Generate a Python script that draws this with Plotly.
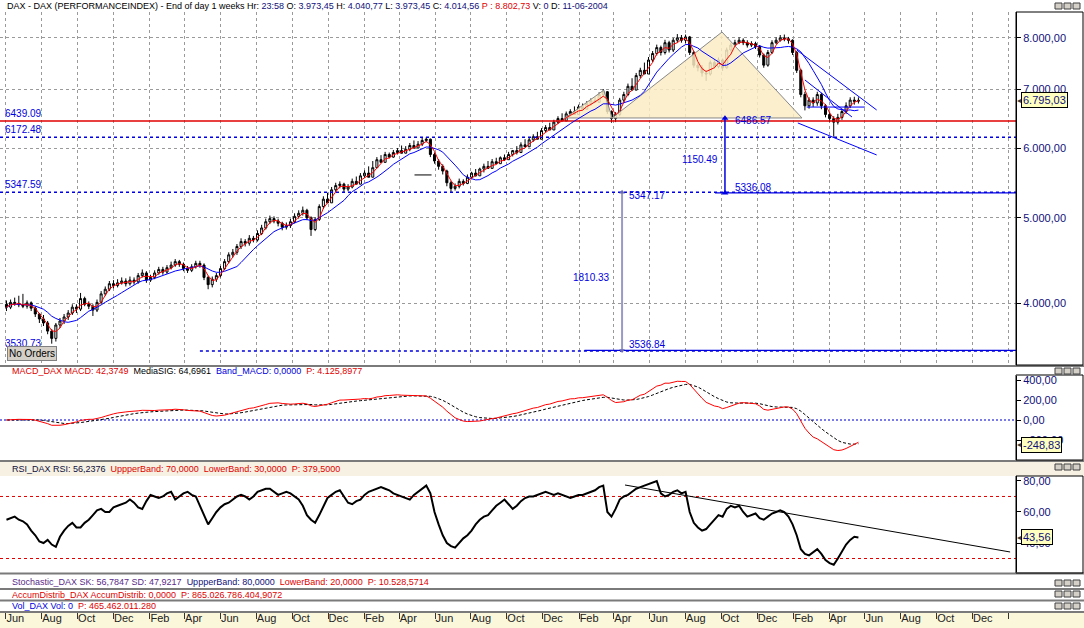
import plotly.graph_objects as go
import pandas as pd
import numpy as np
import math

# ---------------- data ----------------
week_start = "2000-06-02"
first_open = 3990
closes = [
    3960, 4010, 4000, 3985, 3970, 4005, 3950, 3890, 3840, 3800,
    3720, 3650, 3780, 3820, 3860, 3900, 3960, 3940, 4050, 3990,
    3970, 3930, 4010, 4100, 4150, 4210, 4190, 4220, 4240, 4210,
    4250, 4230, 4300, 4330, 4250, 4280, 4330, 4370, 4340, 4390,
    4420, 4460, 4430, 4380, 4360, 4400, 4440, 4420, 4280, 4200,
    4260, 4300, 4380, 4460, 4540, 4570, 4640, 4700, 4680, 4740,
    4720, 4800, 4870, 4950, 4990, 4960, 4930, 4880, 4900, 4950,
    5020, 5060, 5100, 5000, 4850, 4980, 5150, 5250, 5200, 5380,
    5440, 5460, 5390, 5420, 5500, 5460, 5580, 5620, 5560, 5700,
    5820, 5780, 5900, 5860, 5930, 5960, 5920, 5980, 6040, 6000,
    6060, 6120, 6140, 5900, 5800, 5720, 5650, 5480, 5400, 5430,
    5500, 5470, 5560, 5620, 5580, 5680, 5720, 5690, 5790, 5760,
    5850, 5820, 5900, 5960, 5930, 6050, 6020, 6130, 6180, 6140,
    6280, 6330, 6290, 6420, 6480, 6440, 6560, 6600, 6550, 6680,
    6640, 6740, 6790, 6760, 6900, 6950, 6600, 6480, 6550, 6800,
    6900, 7050, 6980, 7250, 7350, 7280, 7550, 7680, 7800, 7700,
    7900, 7750, 7950, 8000, 7950, 8020, 7700, 7450, 7400, 7300,
    7280, 7500, 7420, 7550, 7400, 7750, 7850, 7900, 7950, 7900,
    7850, 7880, 7820, 7650, 7450, 7700, 7900, 7950, 8000, 7980,
    7950, 7700, 7350, 6900, 6700, 6800, 6750, 6900, 6700, 6550,
    6480, 6420, 6500, 6600, 6700, 6800, 6780, 6795.03]
highs = [
    4030, 4040, 4060, 4080, 4100, 4030, 4020, 3970, 3900, 3880,
    3820, 3740, 3800, 3850, 3890, 3930, 3990, 3990, 4110, 4070,
    4020, 3990, 4040, 4130, 4180, 4240, 4250, 4260, 4280, 4270,
    4290, 4280, 4330, 4370, 4350, 4310, 4360, 4400, 4400, 4420,
    4460, 4490, 4480, 4450, 4410, 4430, 4470, 4470, 4440, 4300,
    4290, 4330, 4410, 4490, 4570, 4610, 4670, 4740, 4730, 4780,
    4770, 4840, 4910, 4990, 5030, 5020, 4990, 4950, 4940, 4990,
    5060, 5100, 5150, 5120, 5020, 5010, 5180, 5290, 5340, 5420,
    5480, 5500, 5480, 5460, 5540, 5570, 5620, 5660, 5720, 5800,
    5860, 5890, 5940, 5930, 5970, 6000, 6040, 6030, 6080, 6120,
    6110, 6160, 6172, 6150, 5930, 5830, 5750, 5670, 5510, 5470,
    5540, 5530, 5600, 5640, 5680, 5700, 5760, 5800, 5830, 5850,
    5870, 5900, 5940, 5970, 6030, 6090, 6140, 6170, 6220, 6260,
    6320, 6370, 6410, 6460, 6520, 6570, 6600, 6640, 6690, 6720,
    6740, 6780, 6830, 6850, 6940, 7000, 6960, 6620, 6590, 6840,
    6950, 7100, 7200, 7300, 7400, 7500, 7610, 7730, 7860, 7840,
    7960, 7940, 8000, 8080, 8060, 8070, 8040, 7730, 7500, 7450,
    7360, 7540, 7560, 7600, 7580, 7800, 7900, 7960, 8010, 7990,
    7950, 7930, 7920, 7850, 7680, 7750, 7950, 8010, 8060, 8070,
    8020, 7970, 7730, 7380, 6950, 6850, 6850, 6950, 6930, 6730,
    6600, 6520, 6560, 6650, 6760, 6850, 6860, 6850]
lows = [
    3920, 3940, 3975, 3960, 3950, 3945, 3920, 3860, 3800, 3770,
    3690, 3600, 3620, 3750, 3790, 3830, 3880, 3900, 3920, 3970,
    3940, 3870, 3910, 3990, 4080, 4130, 4160, 4170, 4200, 4180,
    4190, 4200, 4210, 4280, 4220, 4230, 4260, 4310, 4310, 4320,
    4370, 4400, 4400, 4350, 4330, 4340, 4380, 4390, 4250, 4150,
    4170, 4230, 4280, 4360, 4440, 4510, 4540, 4610, 4640, 4650,
    4690, 4700, 4780, 4850, 4920, 4930, 4890, 4840, 4850, 4870,
    4930, 4990, 5030, 4970, 4770, 4830, 4960, 5120, 5220, 5270,
    5350, 5400, 5340, 5360, 5400, 5470, 5500, 5550, 5590, 5650,
    5730, 5790, 5820, 5840, 5850, 5900, 5930, 5940, 5950, 6010,
    6020, 6030, 6090, 5860, 5760, 5670, 5600, 5430, 5348, 5370,
    5400, 5440, 5460, 5530, 5570, 5600, 5630, 5690, 5730, 5760,
    5780, 5800, 5830, 5870, 5900, 5960, 6020, 6070, 6100, 6150,
    6190, 6250, 6300, 6340, 6390, 6450, 6500, 6520, 6570, 6610,
    6640, 6660, 6700, 6750, 6770, 6860, 6560, 6410, 6420, 6520,
    6760, 6870, 7010, 7110, 7200, 7300, 7400, 7510, 7640, 7640,
    7660, 7700, 7710, 7900, 7900, 7890, 7650, 7400, 7330, 7230,
    7150, 7250, 7380, 7390, 7340, 7380, 7720, 7820, 7870, 7850,
    7800, 7810, 7770, 7600, 7400, 7420, 7670, 7870, 7920, 7930,
    7880, 7650, 7300, 6850, 6620, 6650, 6680, 6700, 6640, 6500,
    6420, 6180, 6380, 6460, 6560, 6660, 6720, 6740]
# RSI values, one per week
rsi_values = [
    55, 56, 57, 55, 54, 52, 48, 45, 41, 40,
    42, 39, 37.5, 44, 48, 51, 53, 50, 50, 53,
    55, 58, 61, 62, 60, 60, 63, 64, 65, 66,
    68, 66, 63, 62, 67, 71, 70, 69, 70, 72,
    73, 68, 70, 72, 73, 71, 70, 64, 58, 52,
    56, 60, 63, 65, 66, 68, 70, 71, 70, 68,
    70, 73, 74, 75, 75, 73, 71, 72, 73, 72,
    70, 68, 64, 58, 55, 53, 58, 64, 69, 71,
    73, 74, 70, 66, 65, 67, 68, 71, 73, 74,
    75, 76, 75, 74, 72, 71, 70, 69, 68, 71,
    73, 75, 77, 72, 60, 52, 45, 40, 38, 37,
    40, 43, 45, 48, 52, 55, 57, 58, 61, 64,
    66, 68, 65, 62, 64, 67, 69, 70, 70, 71,
    72, 73, 72, 71, 72, 71, 70, 69, 70, 71,
    71, 72, 73, 74, 76, 77, 60, 57, 62, 68,
    70, 71, 73, 75, 76, 77, 78, 79, 80, 72,
    70, 71, 73, 74, 72, 73, 60, 53, 50, 48,
    49, 52, 55, 58, 57, 62, 64, 63, 64, 60,
    57, 58, 59, 56, 55, 57, 59, 60, 61, 60,
    57, 52, 45, 36, 33, 32, 34, 36, 33, 29,
    27, 26, 30, 35, 39, 42, 44, 43.56]

month_tick0 = "2000-06-01"
x_range = ["2000-05-22", "2005-02-13"]

# drawn levels (values written on the chart)
level_red = 6439.09
level_blue_dash = [6172.48, 5347.59]
level_low = 3530.73
measure1_top, measure1_bot, measure1_txt = 6486.57, 5336.08, "1150.49"
measure2_top, measure2_bot, measure2_txt = 5347.17, 3536.84, "1810.33"

# head & shoulders pattern outline (date, price)
hs_dates = ["2003-01-08", "2003-03-15", "2003-03-29", "2003-10-02", "2004-02-15", "2003-01-08"]
hs_prices = [6490, 6980, 6490, 8123, 6490, 6490]

# channel lines drawn at the end (date pairs, price pairs)
channels = [
    (["2004-02-06", "2004-06-21"], [7751, 6627]),
    (["2004-02-20", "2004-05-10"], [7167, 6507]),
    (["2004-02-23", "2004-06-01"], [6678, 6678]),
    (["2004-02-08", "2004-06-21"], [6406, 5893]),
]
rsi_trend_dates = ["2003-04-20", "2005-02-03"]
rsi_trend_vals = [77.4, 34.2]

# ---------------- derived ----------------
dates = pd.date_range(week_start, periods=len(closes), freq="7D")
opens = [first_open] + closes[:-1]
highs = [max(h, o, c) for h, o, c in zip(highs, opens, closes)]
lows = [min(l, o, c) for l, o, c in zip(lows, opens, closes)]
cs = pd.Series(closes, dtype=float)
ma_fast = cs.rolling(3, min_periods=1).mean()
ma_slow = cs.rolling(9, min_periods=1).mean()
macd = cs.ewm(span=12, adjust=False).mean() - cs.ewm(span=26, adjust=False).mean()
sig = macd.ewm(span=9, adjust=False).mean()

W, H = 1084, 628
XR = 1016 / W
def py(p):
    return 1 - p / H
def px(p):
    return p / W

NAVY = "#10107a"
BLUE = "#0000e0"
RED = "#e00000"
FONT = "Liberation Sans"

fig = go.Figure()

# pattern fill
fig.add_trace(go.Scatter(x=hs_dates, y=hs_prices, mode="lines", fill="toself",
                         fillcolor="rgba(250,236,196,0.85)", line=dict(color="#888888", width=1),
                         hoverinfo="skip", showlegend=False))
# levels
fig.add_trace(go.Scatter(x=x_range, y=[level_red] * 2, mode="lines",
                         line=dict(color="#e00000", width=1.5), hoverinfo="skip", showlegend=False))
for lv in level_blue_dash:
    fig.add_trace(go.Scatter(x=x_range, y=[lv] * 2, mode="lines",
                             line=dict(color=BLUE, width=1.5, dash="3px,3px"), hoverinfo="skip", showlegend=False))
fig.add_trace(go.Scatter(x=["2001-04-27", x_range[1]], y=[level_low] * 2, mode="lines",
                         line=dict(color=BLUE, width=1.5, dash="3px,3px"), hoverinfo="skip", showlegend=False))
fig.add_trace(go.Scatter(x=["2003-02-10", x_range[1]], y=[measure2_bot] * 2, mode="lines",
                         line=dict(color=BLUE, width=1.2), hoverinfo="skip", showlegend=False))
fig.add_trace(go.Scatter(x=["2003-09-20", x_range[1]], y=[measure1_bot] * 2, mode="lines",
                         line=dict(color=BLUE, width=1.2), hoverinfo="skip", showlegend=False))

# candles
fig.add_trace(go.Candlestick(x=dates, open=opens, high=highs, low=lows, close=closes,
                             increasing=dict(line=dict(color="black", width=1), fillcolor="white"),
                             decreasing=dict(line=dict(color="black", width=1), fillcolor="black"),
                             whiskerwidth=0, hoverinfo="skip", showlegend=False))
fig.add_trace(go.Scatter(x=dates, y=ma_slow, mode="lines", line=dict(color="#0000ff", width=1),
                         hoverinfo="skip", showlegend=False))
fig.add_trace(go.Scatter(x=dates, y=ma_fast, mode="lines", line=dict(color="#ff0000", width=1),
                         hoverinfo="skip", showlegend=False))
# small black bar
fig.add_trace(go.Scatter(x=["2002-04-27", "2002-05-26"], y=[5593, 5593], mode="lines",
                         line=dict(color="black", width=1), hoverinfo="skip", showlegend=False))
for cx, cy in channels:
    fig.add_trace(go.Scatter(x=cx, y=cy, mode="lines", line=dict(color="#0000ff", width=1),
                             hoverinfo="skip", showlegend=False))
# measuring arrows
fig.add_trace(go.Scatter(x=["2003-10-07", "2003-10-07"], y=[measure1_top, measure1_bot], mode="lines+markers",
                         line=dict(color=BLUE, width=1.5),
                         marker=dict(symbol=["triangle-up", "triangle-up"], size=6, color=BLUE),
                         hoverinfo="skip", showlegend=False))
fig.add_trace(go.Scatter(x=["2003-04-15", "2003-04-15"], y=[measure2_top, measure2_bot], mode="lines+markers",
                         line=dict(color="#9a9ac8", width=2),
                         marker=dict(symbol=["triangle-up", "triangle-down"], size=5, color="#6a6ab0"),
                         hoverinfo="skip", showlegend=False))

# MACD panel
fig.add_trace(go.Scatter(x=x_range, y=[0, 0], xaxis="x2", yaxis="y2", mode="lines",
                         line=dict(color="#5050e0", width=1.5, dash="2px,2px"), hoverinfo="skip", showlegend=False))
fig.add_trace(go.Scatter(x=dates, y=sig, xaxis="x2", yaxis="y2", mode="lines",
                         line=dict(color="black", width=1, dash="3px,2px"), hoverinfo="skip", showlegend=False))
fig.add_trace(go.Scatter(x=dates, y=macd, xaxis="x2", yaxis="y2", mode="lines",
                         line=dict(color="#ff0000", width=1), hoverinfo="skip", showlegend=False))

# RSI panel
for band in (70, 30):
    fig.add_trace(go.Scatter(x=x_range, y=[band, band], xaxis="x3", yaxis="y3", mode="lines",
                             line=dict(color="#e00000", width=1, dash="3px,3px"), hoverinfo="skip", showlegend=False))
fig.add_trace(go.Scatter(x=dates, y=rsi_values, xaxis="x3", yaxis="y3", mode="lines",
                         line=dict(color="black", width=2), hoverinfo="skip", showlegend=False))
fig.add_trace(go.Scatter(x=rsi_trend_dates, y=rsi_trend_vals, xaxis="x3", yaxis="y3", mode="lines",
                         line=dict(color="black", width=1), hoverinfo="skip", showlegend=False))

# dummy for date axis
fig.add_trace(go.Scatter(x=[dates[0]], y=[0.5], xaxis="x4", yaxis="y4", mode="markers",
                         marker=dict(opacity=0), hoverinfo="skip", showlegend=False))

common_x = dict(domain=[0, XR], range=x_range, type="date", dtick="M2", tick0=month_tick0,
                showticklabels=False, ticks="", zeroline=False, showline=False, automargin=False)
yfont = dict(family=FONT, size=11, color=NAVY)
common_y = dict(side="right", ticks="outside", ticklen=4, tickcolor="black", showline=True,
                linecolor="black", linewidth=1, tickfont=yfont, tickformat=",.2f", zeroline=False,
                automargin=False)

fig.update_layout(
    width=W, height=H, margin=dict(l=0, r=0, t=0, b=0, autoexpand=False),
    paper_bgcolor="white", plot_bgcolor="white",
    separators=",.", font=dict(family=FONT, size=10, color="black"),
    showlegend=False,
    xaxis=dict(**common_x, anchor="y", showgrid=True, gridcolor="#9a9a9a", griddash="dot",
               rangeslider=dict(visible=False)),
    yaxis=dict(**common_y, domain=[py(365), py(12)], type="log", range=[3.53212, 3.93243],
               tickvals=[4000, 5000, 6000, 7000, 8000], showgrid=True, gridcolor="#9a9a9a", griddash="dot",
               anchor="x"),
    xaxis2=dict(**common_x, anchor="y2", matches="x", showgrid=False),
    yaxis2=dict(**common_y, domain=[py(460), py(376)], range=[-400, 440],
                tickvals=[400, 200, 0, -200], showgrid=False, anchor="x2"),
    xaxis3=dict(**common_x, anchor="y3", matches="x", showgrid=False),
    yaxis3=dict(**common_y, domain=[py(572), py(476)], range=[21.3, 83.2],
                tickvals=[80, 60, 40], showgrid=False, anchor="x3"),
    xaxis4=dict(domain=[0, XR], range=x_range, type="date", dtick="M2", tick0=month_tick0,
                tickformat="%b", side="top", ticks="inside", ticklen=6, tickcolor="#333333",
                ticklabelposition="inside right", ticklabelstandoff=-4,
                tickfont=dict(family=FONT, size=11, color="#222222"),
                showgrid=False, zeroline=False, showline=False, anchor="y4", automargin=False),
    yaxis4=dict(domain=[0, py(612.5)], range=[0, 1], visible=False, anchor="x4", automargin=False),
)

shapes = []
# bottom date strip and RSI header strip
shapes.append(dict(type="rect", xref="paper", yref="paper", x0=0, x1=1, y0=0, y1=py(612.5),
                   fillcolor="#fbf7da", line=dict(width=0), layer="below"))
shapes.append(dict(type="rect", xref="paper", yref="paper", x0=0, x1=1, y0=py(476), y1=py(462),
                   fillcolor="#f6f1e2", line=dict(width=0), layer="below"))
# panel separators
for yy in (366, 461, 573.5, 589, 600.5, 612):
    shapes.append(dict(type="line", xref="paper", yref="paper", x0=0, x1=1, y0=py(yy), y1=py(yy),
                       line=dict(color="#7a7a7a", width=2)))
# right boxes
for (t, b) in ((12, 365), (375, 460), (476, 573)):
    shapes.append(dict(type="rect", xref="paper", yref="paper", x0=px(1016), x1=px(1083),
                       y0=py(b), y1=py(t), line=dict(color="black", width=1)))
# window buttons
for yb in (3, 368, 464, 580, 591, 603):
    for xb in (1055, 1064, 1073):
        shapes.append(dict(type="rect", xref="paper", yref="paper", x0=px(xb), x1=px(xb + 7),
                           y0=py(yb + 6), y1=py(yb), fillcolor="#d4d0c8", line=dict(color="#404040", width=1)))
fig.update_layout(shapes=shapes)

ann = []
def hdr(ypx, html, xpx=5, size=9):
    ann.append(dict(xref="paper", yref="paper", x=px(xpx), y=py(ypx), text=html, showarrow=False,
                    xanchor="left", yanchor="middle", font=dict(family=FONT, size=size, color="black")))

def sp(t, c):
    return f"<span style='color:{c}'>{t}</span>"

hdr(6, "DAX - DAX (PERFORMANCEINDEX) - End of day 1 weeks " + "Hr: " + sp("23:58", NAVY)
    + " O: " + sp("3.973,45", NAVY) + " H: " + sp("4.040,77", NAVY) + " L: " + sp("3.973,45", NAVY)
    + " C: " + sp("4.014,56", NAVY) + " " + sp("P : 8.802,73", RED) + " V: " + sp("0", NAVY)
    + " D: " + sp("11-06-2004", NAVY))
hdr(371, sp("MACD_DAX MACD: 42,3749", RED) + "  MediaSIG: 64,6961  " + sp("Band_MACD: 0,0000", BLUE)
    + "  " + sp("P: 4.125,8977", RED), xpx=10)
hdr(469, sp("RSI_DAX RSI: 56,2376", "#101040") + "  " + sp("UppperBand: 70,0000", RED) + "  "
    + sp("LowerBand: 30,0000", RED) + "  " + sp("P: 379,5000", RED), xpx=10)
hdr(582, sp("Stochastic_DAX SK: 56,7847 SD: 47,9217", "#5a2a8a") + "  " + sp("UppperBand: 80,0000", NAVY)
    + "  " + sp("LowerBand: 20,0000", RED) + "  " + sp("P: 10.528,5714", RED), xpx=10)
hdr(594.5, sp("AccumDistrib_DAX AccumDistrib: 0,0000", RED) + "  " + sp("P: 865.026.786.404,9072", RED), xpx=10)
hdr(606, sp("Vol_DAX Vol: 0", BLUE) + "  " + sp("P: 465.462.011.280", RED), xpx=10)

def lab(x, y, text, xanchor="left", yanchor="middle", xref="x", yref="y", color=BLUE, yshift=0):
    ann.append(dict(x=x, y=y, xref=xref, yref=yref, text=text, showarrow=False, xanchor=xanchor,
                    yanchor=yanchor, yshift=yshift, font=dict(family=FONT, size=10, color=color)))

L10 = math.log10
lab(px(3), L10(level_red), f"{level_red:.2f}", xref="paper", yanchor="bottom")
for lv in level_blue_dash:
    lab(px(3), L10(lv), f"{lv:.2f}", xref="paper", yanchor="bottom")
lab(px(3), L10(level_low), f"{level_low:.2f}", xref="paper", yanchor="bottom")
lab("2003-10-21", L10(measure1_top), f"{measure1_top:.2f}", yshift=-2)
lab("2003-10-21", L10(measure1_bot), f"{measure1_bot:.2f}", yanchor="bottom", yshift=-2)
lab("2003-09-29", L10(5818), measure1_txt, xanchor="right")
lab("2003-04-23", L10(measure2_top), f"{measure2_top:.2f}", yanchor="top", yshift=4)
lab("2003-03-29", L10(4275), measure2_txt, xanchor="right")
lab("2003-04-23", L10(measure2_bot), f"{measure2_bot:.2f}", yanchor="bottom", yshift=-2)

ann.append(dict(xref="paper", yref="paper", x=px(7), y=py(353), text="No Orders", showarrow=False,
                xanchor="left", yanchor="middle", bgcolor="#d4d0c8", bordercolor="#808080", borderwidth=1,
                borderpad=1, font=dict(family=FONT, size=10, color="black")))

def lastbox(yref, yval, text):
    ann.append(dict(xref="paper", yref=yref, x=px(1021), y=yval, text=text, showarrow=False,
                    xanchor="left", yanchor="middle", bgcolor="#ffffc0", bordercolor="black", borderwidth=1,
                    borderpad=1, font=dict(family=FONT, size=11, color=NAVY)))
    ann.append(dict(xref="paper", yref=yref, x=px(1015), y=yval, text="◂", showarrow=False,
                    xanchor="left", yanchor="middle", font=dict(family="DejaVu Sans", size=8, color="#333")))

lastbox("y", L10(closes[-1]), "6.795,03")
lastbox("y2", -248.83, "-248,83")
lastbox("y3", rsi_values[-1], "43,56")

fig.update_layout(annotations=ann)
fig.write_html("out.html", config={"displayModeBar": False},
               post_script="document.body.style.margin='0px';document.body.style.overflow='hidden';")
